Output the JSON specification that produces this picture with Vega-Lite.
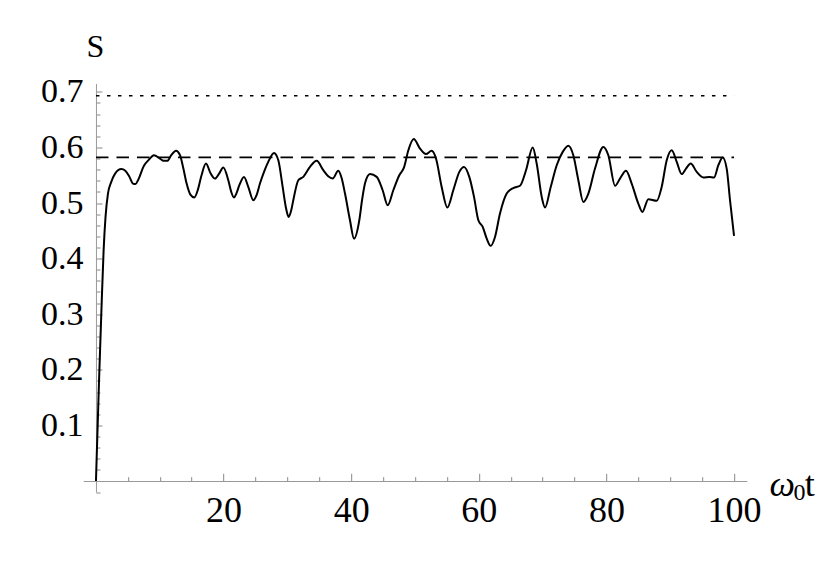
{
  "$schema": "https://vega.github.io/schema/vega-lite/v6.json",
  "width": 663.6,
  "height": 408.6,
  "autosize": {"type": "none"},
  "padding": {"left": 83.2, "top": 83.5, "right": 83.2, "bottom": 84.9},
  "background": "white",
  "config": {
    "view": {"stroke": null},
    "axis": {
      "grid": false,
      "labelFont": "Liberation Serif",
      "titleFont": "Liberation Serif",
      "labelColor": "black",
      "titleColor": "black",
      "titleFontWeight": "normal",
      "domainColor": "#999999",
      "tickColor": "#888888",
      "tickWidth": 1,
      "domainWidth": 1,
      "labelFlush": false,
      "labelOverlap": false
    }
  },
  "datasets": {
    "curve": [
      {"t": 0, "S": 0},
      {"t": 0.47, "S": 0.176},
      {"t": 0.84, "S": 0.302},
      {"t": 1.2, "S": 0.415},
      {"t": 1.5, "S": 0.475},
      {"t": 1.88, "S": 0.517},
      {"t": 2.4, "S": 0.538},
      {"t": 3.0, "S": 0.553},
      {"t": 3.97, "S": 0.561},
      {"t": 4.6, "S": 0.558},
      {"t": 5.2, "S": 0.548},
      {"t": 5.8, "S": 0.535},
      {"t": 6.2, "S": 0.534},
      {"t": 6.63, "S": 0.542},
      {"t": 7.52, "S": 0.567},
      {"t": 8.3, "S": 0.578},
      {"t": 9.09, "S": 0.586},
      {"t": 10.03, "S": 0.58},
      {"t": 10.6, "S": 0.576},
      {"t": 11.18, "S": 0.576},
      {"t": 11.8, "S": 0.586},
      {"t": 12.54, "S": 0.594},
      {"t": 13.17, "S": 0.586},
      {"t": 13.7, "S": 0.562},
      {"t": 14.21, "S": 0.535},
      {"t": 14.8, "S": 0.515},
      {"t": 15.41, "S": 0.51},
      {"t": 16.0, "S": 0.525},
      {"t": 16.5, "S": 0.548},
      {"t": 17.24, "S": 0.571},
      {"t": 17.98, "S": 0.553},
      {"t": 18.65, "S": 0.544},
      {"t": 19.3, "S": 0.553},
      {"t": 19.96, "S": 0.564},
      {"t": 20.74, "S": 0.541},
      {"t": 21.2, "S": 0.52},
      {"t": 21.63, "S": 0.51},
      {"t": 22.0, "S": 0.517},
      {"t": 22.47, "S": 0.532},
      {"t": 23.2, "S": 0.547},
      {"t": 23.87, "S": 0.529},
      {"t": 24.66, "S": 0.505},
      {"t": 25.2, "S": 0.515},
      {"t": 25.7, "S": 0.535},
      {"t": 26.4, "S": 0.558},
      {"t": 27.0, "S": 0.574},
      {"t": 27.9, "S": 0.59},
      {"t": 28.58, "S": 0.577},
      {"t": 29.26, "S": 0.529},
      {"t": 29.8, "S": 0.49},
      {"t": 30.2, "S": 0.475},
      {"t": 30.6, "S": 0.487},
      {"t": 31.03, "S": 0.511},
      {"t": 31.71, "S": 0.541},
      {"t": 32.5, "S": 0.547},
      {"t": 33.54, "S": 0.565},
      {"t": 34.59, "S": 0.576},
      {"t": 35.63, "S": 0.559},
      {"t": 36.4, "S": 0.548},
      {"t": 37.1, "S": 0.544},
      {"t": 37.98, "S": 0.558},
      {"t": 38.5, "S": 0.545},
      {"t": 39.03, "S": 0.517},
      {"t": 39.81, "S": 0.469},
      {"t": 40.44, "S": 0.436},
      {"t": 41.27, "S": 0.469},
      {"t": 41.7, "S": 0.505},
      {"t": 42.16, "S": 0.535},
      {"t": 42.95, "S": 0.552},
      {"t": 44.0, "S": 0.547},
      {"t": 44.93, "S": 0.523},
      {"t": 45.72, "S": 0.496},
      {"t": 46.6, "S": 0.523},
      {"t": 47.54, "S": 0.55},
      {"t": 48.28, "S": 0.564},
      {"t": 48.96, "S": 0.595},
      {"t": 49.8, "S": 0.615},
      {"t": 50.78, "S": 0.598},
      {"t": 51.72, "S": 0.588},
      {"t": 52.6, "S": 0.594},
      {"t": 53.29, "S": 0.58},
      {"t": 54.18, "S": 0.529},
      {"t": 55.07, "S": 0.492},
      {"t": 56.0, "S": 0.523},
      {"t": 56.95, "S": 0.556},
      {"t": 57.68, "S": 0.565},
      {"t": 58.51, "S": 0.547},
      {"t": 59.25, "S": 0.511},
      {"t": 59.93, "S": 0.469},
      {"t": 60.61, "S": 0.457},
      {"t": 61.24, "S": 0.436},
      {"t": 61.86, "S": 0.423},
      {"t": 62.54, "S": 0.439},
      {"t": 63.32, "S": 0.481},
      {"t": 64.37, "S": 0.517},
      {"t": 65.41, "S": 0.527},
      {"t": 66.46, "S": 0.531},
      {"t": 67.4, "S": 0.559},
      {"t": 68.45, "S": 0.6},
      {"t": 69.07, "S": 0.571},
      {"t": 69.86, "S": 0.511},
      {"t": 70.38, "S": 0.492},
      {"t": 71.27, "S": 0.529},
      {"t": 72.21, "S": 0.568},
      {"t": 73.15, "S": 0.592},
      {"t": 74.03, "S": 0.603},
      {"t": 74.81, "S": 0.586},
      {"t": 75.6, "S": 0.541},
      {"t": 76.38, "S": 0.502},
      {"t": 77.17, "S": 0.517},
      {"t": 78.21, "S": 0.562},
      {"t": 79.52, "S": 0.601},
      {"t": 80.3, "S": 0.586},
      {"t": 81.35, "S": 0.531},
      {"t": 82.13, "S": 0.544},
      {"t": 83.07, "S": 0.558},
      {"t": 83.96, "S": 0.535},
      {"t": 85.0, "S": 0.499},
      {"t": 85.63, "S": 0.484},
      {"t": 86.57, "S": 0.507},
      {"t": 87.88, "S": 0.504},
      {"t": 88.66, "S": 0.529},
      {"t": 89.45, "S": 0.577},
      {"t": 90.23, "S": 0.595},
      {"t": 91.02, "S": 0.574},
      {"t": 91.8, "S": 0.552},
      {"t": 92.48, "S": 0.562},
      {"t": 93.2, "S": 0.571},
      {"t": 94.15, "S": 0.556},
      {"t": 95.19, "S": 0.546},
      {"t": 96.13, "S": 0.547},
      {"t": 96.87, "S": 0.546},
      {"t": 97.54, "S": 0.568},
      {"t": 98.23, "S": 0.582},
      {"t": 98.85, "S": 0.562},
      {"t": 99.37, "S": 0.505},
      {"t": 100.0, "S": 0.441}
    ],
    "dashed": [{"t": 0, "t2": 100, "S": 0.582}],
    "dotted": [{"t": 0, "t2": 100, "S": 0.693}]
  },
  "layer": [
    {
      "data": {"name": "dotted"},
      "mark": {"type": "rule", "color": "black", "strokeWidth": 1.5, "strokeDash": [3.5, 7.5]},
      "encoding": {
        "x": {
          "field": "t", "type": "quantitative",
          "scale": {"domain": [-2, 102], "nice": false, "zero": false},
          "axis": {
            "orient": "bottom", "offset": -11.1, "domain": false, "labels": false,
            "values": [5, 10, 15, 25, 30, 35, 45, 50, 55, 65, 70, 75, 85, 90, 95],
            "tickSize": -4.3,
            "title": "t", "titleFontSize": 36, "titleFontStyle": "normal",
            "titleX": 721, "titleY": 14, "titleAlign": "left", "titleBaseline": "alphabetic", "titleAngle": 0
          }
        },
        "x2": {"field": "t2"},
        "y": {
          "field": "S", "type": "quantitative",
          "scale": {"domain": [-0.02, 0.715], "nice": false, "zero": false},
          "axis": {
            "orient": "left", "offset": -12.76, "domain": false, "labels": false,
            "values": [-0.02, 0.02, 0.04, 0.06, 0.08, 0.12, 0.14, 0.16, 0.18, 0.22, 0.24, 0.26, 0.28, 0.32, 0.34, 0.36, 0.38, 0.42, 0.44, 0.46, 0.48, 0.52, 0.54, 0.56, 0.58, 0.62, 0.64, 0.66, 0.68],
            "tickSize": -4,
            "title": null
          }
        }
      }
    },
    {
      "data": {"name": "dashed"},
      "mark": {"type": "rule", "color": "black", "strokeWidth": 1.8, "strokeDash": [12.5, 8]},
      "encoding": {
        "x": {
          "field": "t", "type": "quantitative",
          "scale": {"domain": [-2, 102], "nice": false, "zero": false},
          "axis": {
            "orient": "bottom", "offset": -11.1, "domain": false, "labels": false,
            "values": [20, 40, 60, 80, 100],
            "tickSize": -7.7,
            "title": "0", "titleFontSize": 24, "titleFontStyle": "normal",
            "titleX": 709.8, "titleY": 18, "titleAlign": "left", "titleBaseline": "alphabetic", "titleAngle": 0
          }
        },
        "x2": {"field": "t2"},
        "y": {
          "field": "S", "type": "quantitative",
          "scale": {"domain": [-0.02, 0.715], "nice": false, "zero": false},
          "axis": {
            "orient": "left", "offset": -12.76, "domain": false, "labels": false,
            "values": [0.1, 0.2, 0.3, 0.4, 0.5, 0.6, 0.7],
            "tickSize": -6,
            "title": null
          }
        }
      }
    },
    {
      "data": {"name": "curve"},
      "mark": {"type": "line", "color": "black", "strokeWidth": 2, "interpolate": "monotone"},
      "encoding": {
        "x": {
          "field": "t", "type": "quantitative",
          "scale": {"domain": [-2, 102], "nice": false, "zero": false},
          "axis": {
            "orient": "bottom", "offset": -11.1, "domain": true, "ticks": false,
            "values": [20, 40, 60, 80, 100],
            "labelFontSize": 36, "labelPadding": 12,
            "title": "ω", "titleFontSize": 36, "titleFontStyle": "italic",
            "titleX": 685.8, "titleY": 14, "titleAlign": "left", "titleBaseline": "alphabetic", "titleAngle": 0
          }
        },
        "y": {
          "field": "S", "type": "quantitative",
          "scale": {"domain": [-0.02, 0.715], "nice": false, "zero": false},
          "axis": {
            "orient": "left", "offset": -12.76, "domain": true, "ticks": false,
            "values": [0.1, 0.2, 0.3, 0.4, 0.5, 0.6, 0.7],
            "format": ".1f",
            "labelFontSize": 34, "labelPadding": 13, "labelBaseline": "middle",
            "title": "S", "titleFontSize": 32, "titleFontStyle": "normal",
            "titleX": -1, "titleY": -26.8, "titleAlign": "center", "titleBaseline": "alphabetic", "titleAngle": 0
          }
        }
      }
    }
  ],
  "resolve": {"axis": {"x": "independent", "y": "independent"}}
}
